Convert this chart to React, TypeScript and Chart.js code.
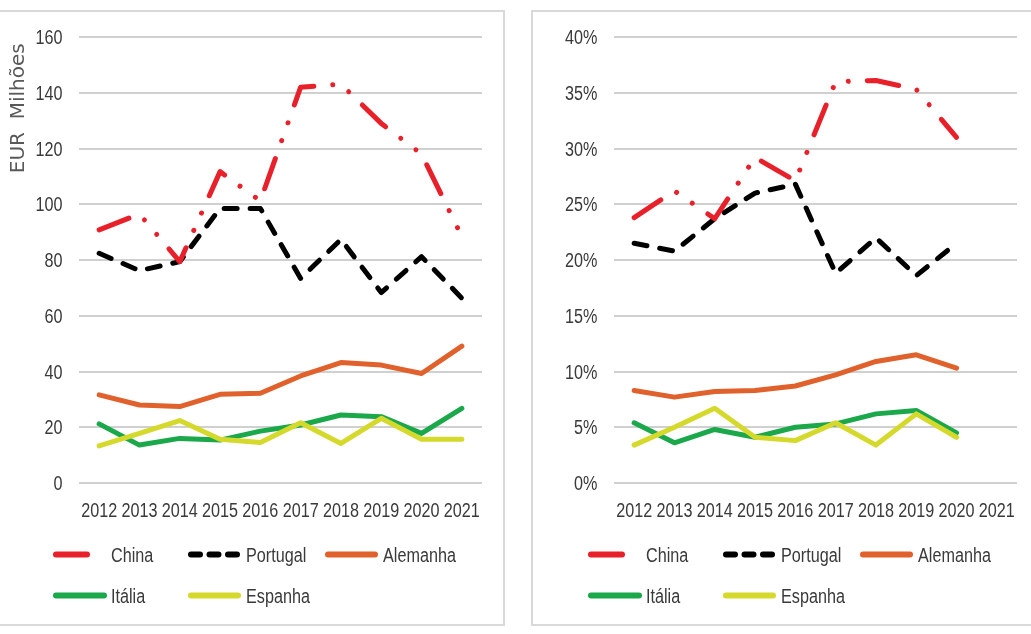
import { useEffect, useRef } from "react";
import { Chart, registerables } from "chart.js";

Chart.register(...registerables);

const years = ["2012", "2013", "2014", "2015", "2016", "2017", "2018", "2019", "2020", "2021"];
const seriesNames = ["China", "Portugal", "Alemanha", "Itália", "Espanha"];

// Left panel: EUR Milhões
const chinaEur = [90.8, 96.5, 79.4, 111.7, 101.2, 142, 143.1, 129, 118, 88.4];
const portugalEur = [82.4, 76.2, 79.4, 98.5, 98.5, 73.4, 87.4, 68.3, 81.2, 66.3];
const alemanhaEur = [31.6, 28, 27.4, 31.8, 32.2, 38.4, 43.2, 42.3, 39.3, 49.1];
const italiaEur = [21.2, 13.6, 16, 15.4, 18.6, 20.8, 24.4, 23.8, 17.8, 26.8];
const espanhaEur = [13.3, 17.8, 22.4, 15.7, 14.5, 21.6, 14.2, 23.2, 15.7, 15.7];

// Right panel: share (%)
const chinaPct = [23.8, 26.2, 23.7, 29.2, 27.1, 36.0, 36.1, 35.3, 31.0];
const portugalPct = [21.5, 20.8, 23.7, 26.0, 26.8, 18.8, 22.0, 18.6, 21.5];
const alemanhaPct = [8.3, 7.7, 8.2, 8.3, 8.7, 9.7, 10.9, 11.5, 10.3];
const italiaPct = [5.4, 3.6, 4.8, 4.1, 5.0, 5.3, 6.2, 6.5, 4.5];
const espanhaPct = [3.4, 5.0, 6.7, 4.1, 3.8, 5.4, 3.4, 6.2, 4.1];

const colors = ["#E8202A", "#000000", "#E0612C", "#1BA84A", "#D5D92C"];
const dashes: number[][] = [[32, 19, 0.01, 19, 0.01, 19], [13, 13], [], [], []];
const orders = [3, 4, 2, 1, 0];

const LABEL_FONT = "20px 'Liberation Sans', Arimo, Arial, sans-serif";
const SQUEEZE = 0.81;
const TEXT = "#3A3A3A";

function drawNarrow(ctx: CanvasRenderingContext2D, text: string, x: number, y: number, align: CanvasTextAlign) {
  ctx.save();
  ctx.translate(x, y);
  ctx.scale(SQUEEZE, 1);
  ctx.textAlign = align;
  ctx.fillText(text, 0, 0);
  ctx.restore();
}

const narrowLabels = {
  id: "narrowLabels",
  afterDraw(chart: any, _args: any, opts: any) {
    const { ctx } = chart;
    const xs = chart.scales.x;
    const ys = chart.scales.y;
    const suffix = (opts && opts.suffix) || "";
    ctx.save();
    ctx.fillStyle = TEXT;
    ctx.font = LABEL_FONT;
    ctx.textBaseline = "middle";
    xs.ticks.forEach((t: any, i: number) => {
      drawNarrow(ctx, String(xs.getLabelForValue(t.value)), xs.getPixelForTick(i), chart.chartArea.bottom + 28, "center");
    });
    ys.ticks.forEach((t: any) => {
      drawNarrow(ctx, `${t.value}${suffix}`, chart.chartArea.left - 16.5, ys.getPixelForValue(t.value) + 1.5, "right");
    });
    ctx.restore();
  },
};

const gridLegend = {
  id: "gridLegend",
  afterDraw(chart: any) {
    const { ctx, chartArea } = chart;
    const cols = [-26, 109, 246];
    const rows = [71.5, 112.5];
    chart.data.datasets.forEach((ds: any, i: number) => {
      const x0 = chartArea.left + cols[i % 3];
      const y = chartArea.bottom + rows[Math.floor(i / 3)];
      ctx.save();
      ctx.strokeStyle = ds.borderColor;
      ctx.lineWidth = 6;
      ctx.lineCap = "round";
      let len = 47;
      if (i === 0) len = 31;
      if (i === 3) len = 48;
      if (i === 1) {
        ctx.setLineDash([9, 9.5]);
        len = 46;
      }
      ctx.beginPath();
      ctx.moveTo(x0 + 3, y);
      ctx.lineTo(x0 + 3 + len, y);
      ctx.stroke();
      ctx.setLineDash([]);
      ctx.fillStyle = TEXT;
      ctx.font = LABEL_FONT;
      ctx.textBaseline = "middle";
      drawNarrow(ctx, ds.label, x0 + 58, y + 1.5, "left");
      ctx.restore();
    });
  },
};

type PanelProps = {
  series: number[][];
  max: number;
  step: number;
  suffix: string;
  title?: string;
  yWidth: number;
  padRight: number;
  width: number;
  height: number;
};

function LineChart(props: PanelProps) {
  const ref = useRef<HTMLCanvasElement | null>(null);
  useEffect(() => {
    if (!ref.current) return;
    const chart = new Chart(ref.current, {
      type: "line",
      data: {
        labels: years,
        datasets: props.series.map((vals, i) => ({
          label: seriesNames[i],
          data: vals,
          borderColor: colors[i],
          backgroundColor: colors[i],
          borderWidth: 5,
          borderDash: dashes[i],
          borderCapStyle: "round" as const,
          borderJoinStyle: "round" as const,
          pointRadius: 0,
          tension: 0,
          fill: false,
          order: orders[i],
        })),
      },
      options: {
        responsive: false,
        animation: false,
        layout: { padding: { top: 25, right: props.padRight, left: 0, bottom: 0 } },
        plugins: {
          legend: { display: false },
          tooltip: { enabled: false },
          narrowLabels: { suffix: props.suffix },
        },
        scales: {
          x: {
            offset: true,
            grid: { display: false },
            border: { display: false },
            ticks: { display: false, autoSkip: false, maxRotation: 0 },
            afterFit: (s: any) => {
              s.height = 141;
            },
          },
          y: {
            min: 0,
            max: props.max,
            grid: { color: "#D0D0D0", lineWidth: 2, drawTicks: false },
            border: { display: false },
            ticks: { display: false, stepSize: props.step },
            title: {
              display: !!props.title,
              text: props.title || "",
              align: "end",
              color: "#595959",
              font: { family: "'DejaVu Sans', sans-serif", size: 20 },
              padding: { top: 7, bottom: 0 },
            },
            afterFit: (s: any) => {
              s.width = props.yWidth;
            },
          },
        },
      },
      plugins: [narrowLabels, gridLegend],
    } as any);
    return () => chart.destroy();
  }, []);
  return (
    <canvas
      ref={ref}
      width={props.width}
      height={props.height}
      style={{ width: props.width, height: props.height, display: "block" }}
    />
  );
}

export default function App() {
  return (
    <div
      style={{
        position: "absolute",
        left: 0,
        top: 0,
        width: 1031,
        height: 634,
        overflow: "hidden",
        background: "#ffffff",
      }}
    >
      <div
        style={{
          position: "absolute",
          left: -2,
          top: 10,
          width: 507,
          height: 616,
          boxSizing: "border-box",
          border: "2px solid #D9D9D9",
        }}
      />
      <div
        style={{
          position: "absolute",
          left: 531,
          top: 10,
          width: 520,
          height: 616,
          boxSizing: "border-box",
          border: "2px solid #D9D9D9",
        }}
      />
      <div style={{ position: "absolute", left: 0, top: 12 }}>
        <LineChart
          series={[chinaEur, portugalEur, alemanhaEur, italiaEur, espanhaEur]}
          max={160}
          step={20}
          suffix=""
          title="EUR  Milhões "
          yWidth={79}
          padRight={20}
          width={502}
          height={612}
        />
      </div>
      <div style={{ position: "absolute", left: 534, top: 12 }}>
        <LineChart
          series={[chinaPct, portugalPct, alemanhaPct, italiaPct, espanhaPct]}
          max={40}
          step={5}
          suffix="%"
          yWidth={80}
          padRight={14}
          width={497}
          height={612}
        />
      </div>
    </div>
  );
}
